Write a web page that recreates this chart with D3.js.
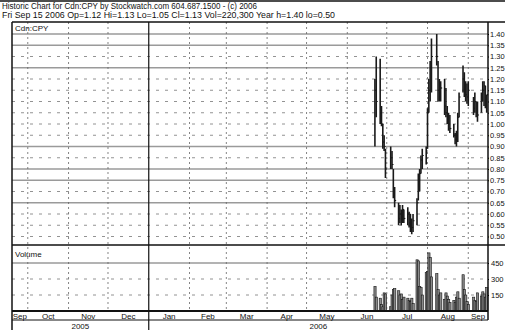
<!DOCTYPE html>
<html><head><meta charset="utf-8">
<script src="https://cdn.jsdelivr.net/npm/d3@7"></script>
<style>html,body{margin:0;padding:0;background:#fff;overflow:hidden}svg{display:block}text{font-family:"Liberation Sans",Arial,sans-serif;fill:#111}</style>
</head><body>
<script>
const titleLine1 = "Historic Chart for Cdn:CPY by Stockwatch.com 604.687.1500 - (c) 2006";
const titleLine2 = "Fri Sep 15 2006  Op=1.12  Hi=1.13  Lo=1.05  Cl=1.13  Vol=220,300  Year h=1.40  lo=0.50";
const dates = ["2006-06-22","2006-06-23","2006-06-26","2006-06-27","2006-06-28","2006-06-29","2006-06-30",
"2006-07-04","2006-07-05","2006-07-06","2006-07-07","2006-07-10","2006-07-11","2006-07-12","2006-07-13","2006-07-14",
"2006-07-17","2006-07-18","2006-07-19","2006-07-20","2006-07-21","2006-07-24","2006-07-25","2006-07-26","2006-07-27","2006-07-28",
"2006-07-31","2006-08-01","2006-08-02","2006-08-03","2006-08-04","2006-08-08","2006-08-09","2006-08-10","2006-08-11",
"2006-08-14","2006-08-15","2006-08-16","2006-08-17","2006-08-18","2006-08-21","2006-08-22","2006-08-23","2006-08-24","2006-08-25",
"2006-08-28","2006-08-29","2006-08-30","2006-08-31","2006-09-01","2006-09-05","2006-09-06","2006-09-07","2006-09-08",
"2006-09-11","2006-09-12","2006-09-13","2006-09-14","2006-09-15"];
const highs = [1.20,1.30,1.29,1.08,1.00,0.95,0.89,
0.90,0.88,0.80,0.72,0.65,0.64,0.62,0.64,0.62,
0.63,0.61,0.60,0.58,0.60,0.67,0.78,0.80,0.86,0.89,
0.90,1.07,1.20,1.28,1.38,1.40,1.28,1.20,1.19,
1.20,1.16,1.08,1.05,1.04,1.00,0.96,0.97,1.05,1.14,
1.26,1.23,1.19,1.18,1.19,1.12,1.14,1.10,1.10,
1.14,1.19,1.19,1.17,1.13];
const lows = [0.90,1.03,1.00,0.99,0.89,0.88,0.76,
0.80,0.80,0.67,0.63,0.55,0.56,0.55,0.56,0.56,
0.55,0.54,0.52,0.51,0.52,0.55,0.66,0.70,0.78,0.80,
0.82,0.89,1.05,1.10,1.14,1.26,1.10,1.10,1.10,
1.04,1.03,1.00,0.97,0.96,0.94,0.91,0.90,0.92,1.03,
1.14,1.12,1.10,1.09,1.08,1.04,1.05,1.03,1.01,
1.05,1.10,1.08,1.07,1.05];
const closes = [1.15,1.10,1.05,1.00,0.92,0.90,0.80,
0.85,0.82,0.70,0.66,0.58,0.60,0.57,0.62,0.58,
0.60,0.56,0.55,0.54,0.57,0.65,0.75,0.78,0.84,0.86,
0.88,1.05,1.15,1.25,1.30,1.30,1.15,1.12,1.16,
1.08,1.05,1.02,1.00,0.98,0.95,0.93,0.95,1.03,1.12,
1.20,1.15,1.13,1.12,1.15,1.07,1.10,1.05,1.04,
1.12,1.15,1.17,1.10,1.13];
const volumes = [230,130,120,60,40,170,160,
40,150,200,210,190,150,160,110,130,
120,100,90,120,70,480,470,230,220,150,
360,370,545,500,320,350,200,150,170,
110,170,140,110,80,100,80,130,180,120,
340,200,150,90,60,130,100,90,170,
140,180,160,130,220];
const priceTicks = [1.40,1.35,1.30,1.25,1.20,1.15,1.10,1.05,1.00,0.95,0.90,0.85,0.80,0.75,0.70,0.65,0.60,0.55,0.50];
const solidPriceGrid = [1.40,1.35,1.25,0.90,0.80,0.75,0.65];
const volumeTicks = [450,300,150];
const yearLabels = ["2005","2006"];

const W = 505, H = 330;
const L = 12, R = 488, T = 22, priceBottom = 245, volBottom = 311, axisBottom = 320;
const svg = d3.select("body").append("svg").attr("width", W).attr("height", H);
const parse = d3.timeParse("%Y-%m-%d");
const data = dates.map((d,i)=>({date:parse(d),h:highs[i],l:lows[i],c:closes[i],v:volumes[i]}));

const x = d3.scaleTime().domain([new Date(2005,8,19), new Date(2006,8,16)]).range([L, R]);
const y = d3.scaleLinear().domain([0.50,1.40]).range([236.5,34]);
const yv = d3.scaleLinear().domain([0,450]).range([volBottom,263]);

// title
svg.append("line").attr("x1",0).attr("x2",W).attr("y1",1).attr("y2",1).attr("stroke","#111").attr("stroke-width",1.5);
svg.append("text").attr("x",2).attr("y",9).attr("font-size",8.5).attr("textLength",255).attr("lengthAdjust","spacingAndGlyphs").text(titleLine1);
svg.append("text").attr("x",2).attr("y",18).attr("font-size",8.5).attr("textLength",333).attr("lengthAdjust","spacingAndGlyphs").text(titleLine2);

// horizontal grid price
const g = svg.append("g");
g.selectAll(".hg").data(priceTicks).join("line")
  .attr("x1",L).attr("x2",R).attr("y1",d=>y(d)).attr("y2",d=>y(d))
  .attr("stroke",d=>solidPriceGrid.includes(d)?"#9a9a9a":"#777")
  .attr("stroke-width",d=>solidPriceGrid.includes(d)?1.4:0.8)
  .attr("stroke-dasharray",d=>solidPriceGrid.includes(d)?null:"3,6");
// volume grid
g.selectAll(".vg").data(volumeTicks).join("line")
  .attr("x1",L).attr("x2",R).attr("y1",d=>yv(d)).attr("y2",d=>yv(d))
  .attr("stroke",d=>d===450?"#9a9a9a":"#777")
  .attr("stroke-width",d=>d===450?1.4:0.8)
  .attr("stroke-dasharray",d=>d===450?null:"3,6");

// month gridlines
const months = d3.timeMonth.range(d3.timeMonth.ceil(x.domain()[0]), x.domain()[1]);
g.selectAll(".vm").data(months).join("line")
  .attr("x1",d=>x(d)).attr("x2",d=>x(d)).attr("y1",T).attr("y2",volBottom)
  .attr("stroke",d=>d.getMonth()===0?"#111":"#666")
  .attr("stroke-width",d=>d.getMonth()===0?1.2:0.8)
  .attr("stroke-dasharray",d=>d.getMonth()===0?null:"2,3");

// price bars
const pb = svg.append("g");
pb.selectAll("line.hl").data(data).join("line")
  .attr("x1",d=>x(d.date)).attr("x2",d=>x(d.date)).attr("y1",d=>y(d.h)).attr("y2",d=>y(d.l))
  .attr("stroke","#1a1a1a").attr("stroke-width",1.6);
pb.selectAll("line.cl").data(data).join("line")
  .attr("x1",d=>x(d.date)).attr("x2",d=>x(d.date)+1.5).attr("y1",d=>y(d.c)).attr("y2",d=>y(d.c))
  .attr("stroke","#1a1a1a").attr("stroke-width",1.2);

// volume bars
svg.append("g").selectAll("rect").data(data).join("rect")
  .attr("x",d=>x(d.date)-1).attr("width",2.2)
  .attr("y",d=>yv(d.v)).attr("height",d=>volBottom-yv(d.v))
  .attr("fill","#8a8a8a").attr("stroke","#111").attr("stroke-width",0.6);

// frame
const fr = svg.append("g").attr("stroke","#111").attr("fill","none");
fr.append("line").attr("x1",L).attr("x2",W).attr("y1",T).attr("y2",T).attr("stroke-width",1.5);
fr.append("line").attr("x1",L).attr("x2",L).attr("y1",T).attr("y2",H).attr("stroke-width",1.5);
fr.append("line").attr("x1",R).attr("x2",R).attr("y1",T).attr("y2",axisBottom).attr("stroke-width",1.5);
fr.append("line").attr("x1",L).attr("x2",W).attr("y1",priceBottom).attr("y2",priceBottom).attr("stroke-width",1.5);
fr.append("line").attr("x1",L).attr("x2",R).attr("y1",volBottom).attr("y2",volBottom).attr("stroke-width",1.8);
fr.append("line").attr("x1",L).attr("x2",R).attr("y1",axisBottom).attr("y2",axisBottom).attr("stroke-width",1);
fr.append("line").attr("x1",x(new Date(2006,0,1))).attr("x2",x(new Date(2006,0,1))).attr("y1",volBottom).attr("y2",H).attr("stroke-width",1.2);

// panel labels
svg.append("text").attr("x",15).attr("y",31).attr("font-size",8).text("Cdn:CPY");
svg.append("text").attr("x",15).attr("y",257).attr("font-size",8).text("Volume");

// right axes
const ay = svg.append("g").attr("transform",`translate(${R},0)`)
  .call(d3.axisRight(y).tickValues(priceTicks).tickSize(1).tickPadding(1).tickFormat(d3.format(".2f")));
ay.select(".domain").remove();
ay.selectAll("text").attr("font-size",7.5).attr("font-family","Liberation Sans, Arial, sans-serif").attr("fill","#111");
const av = svg.append("g").attr("transform",`translate(${R},0)`)
  .call(d3.axisRight(yv).tickValues(volumeTicks).tickSize(1).tickPadding(2));
av.select(".domain").remove();
av.selectAll("text").attr("font-size",7.5).attr("font-family","Liberation Sans, Arial, sans-serif").attr("fill","#111");

// month labels
const [d0,d1] = x.domain();
const monthStarts = d3.timeMonth.range(d3.timeMonth.floor(d0), d1);
svg.append("g").selectAll("text").data(monthStarts).join("text")
  .attr("x",d=>{const a=Math.max(x(d),L), b=Math.min(x(d3.timeMonth.offset(d,1)),R); return (a+b)/2;})
  .attr("y",318.5).attr("font-size",8).attr("text-anchor","middle")
  .text(d=>d3.timeFormat("%b")(d));

// year labels
const yearStarts = [new Date(2005,0,1), new Date(2006,0,1)];
svg.append("g").selectAll("text").data(yearStarts).join("text")
  .attr("x",d=>{const a=Math.max(x(d),L), b=Math.min(x(d3.timeYear.offset(d,1)),R); return (a+b)/2;})
  .attr("y",328.5).attr("font-size",8).attr("text-anchor","middle")
  .text((d,i)=>yearLabels[i]);
</script>
</body></html>
